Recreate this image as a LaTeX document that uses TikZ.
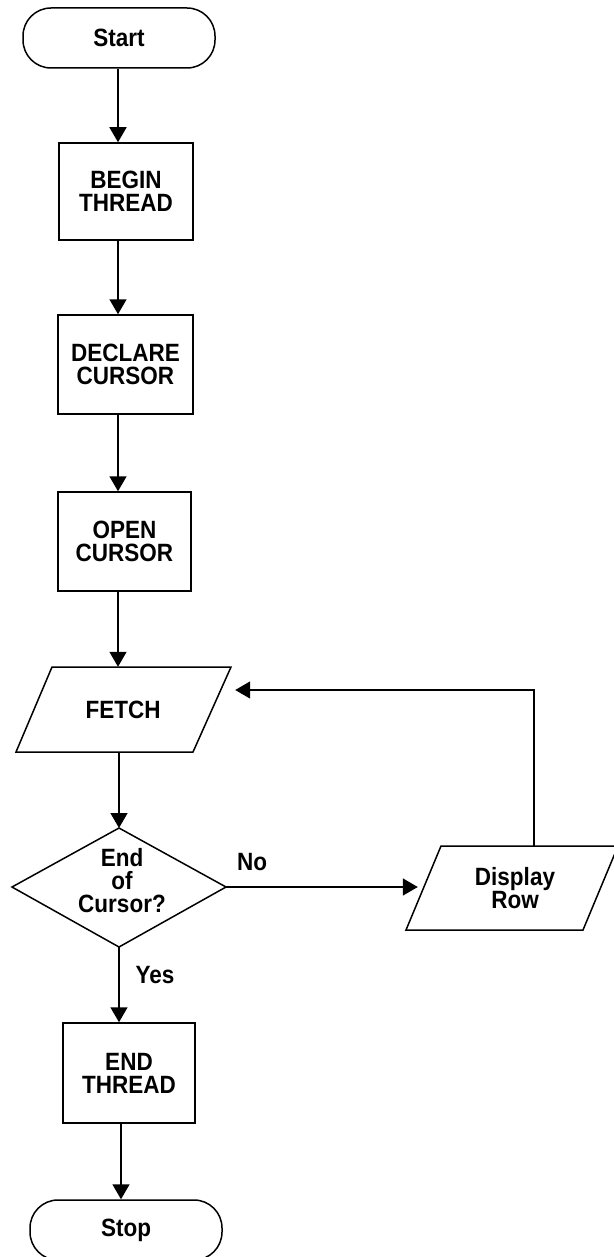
\documentclass[tikz,border=0pt]{standalone}
\usepackage{fontspec}
\setmainfont[FakeStretch=0.9]{Liberation Sans}
\usetikzlibrary{arrows.meta}
\begin{document}
\begin{tikzpicture}[x=1pt,y=-1pt,
  lbl/.style={font=\fontsize{25}{23}\selectfont\bfseries, align=center, inner sep=0pt},
  ln/.style={line width=1.5pt, line join=miter},
  term/.style={lbl, draw, ln, rounded corners=28pt, minimum width=192pt, minimum height=60pt},
  proc/.style={lbl, draw, ln},
  arr/.style={line width=1.5pt, -{Triangle[width=17pt,length=15pt]}}]
\useasboundingbox (0,0) rectangle (613,1257);
\fill[white] (0,0) rectangle (613,1257);

% nodes
\node[term] (start) at (119,38) {Start};
\node[proc, minimum width=134pt, minimum height=97pt] (begin) at (126,191.5) {BEGIN\\THREAD};
\node[proc, minimum width=135pt, minimum height=99pt] (declare) at (125.5,364.5) {DECLARE\\CURSOR};
\node[proc, minimum width=133pt, minimum height=99pt] (open) at (124.5,541.5) {OPEN\\CURSOR};

\node[lbl, minimum width=224pt, minimum height=85pt] (fetch) at (123,709.5) {FETCH};
\draw[ln] ([shift={(-71,-42.5)}]fetch.center) -- ([shift={(108,-42.5)}]fetch.center)
  -- ([shift={(70,42.5)}]fetch.center) -- ([shift={(-107,42.5)}]fetch.center) -- cycle;

\node[lbl] (dec) at (122,881) {End\\of\\Cursor?};
\coordinate (decN) at ([shift={(-3,-53)}]dec.center);
\coordinate (decE) at ([shift={(104,6)}]dec.center);
\coordinate (decS) at ([shift={(-3,66)}]dec.center);
\coordinate (decW) at ([shift={(-110,6)}]dec.center);
\draw[ln] (decN) -- (decE) -- (decS) -- (decW) -- cycle;

\node[lbl, minimum width=194pt, minimum height=84pt] (disp) at (515,888) {Display\\Row};
\draw[ln] ([shift={(-74,-42)}]disp.center) -- ([shift={(103,-42)}]disp.center)
  -- ([shift={(68,42)}]disp.center) -- ([shift={(-109,42)}]disp.center) -- cycle;

\node[proc, minimum width=132pt, minimum height=100pt] (endt) at (129,1073) {END\\THREAD};
\node[term] (stop) at (126,1230) {Stop};

\node[lbl] (no) at (252,862) {No};
\node[lbl] (yes) at (155,975) {Yes};

% connectors
\coordinate (ax) at (118,0);
\coordinate (ax2) at (121,0);
\coordinate (loop) at (534,690);
\draw[arr] (start.south -| ax) -- (begin.north -| ax);
\draw[arr] (begin.south -| ax) -- (declare.north -| ax);
\draw[arr] (declare.south -| ax) -- (open.north -| ax);
\draw[arr] (open.south -| ax) -- (fetch.north -| ax);
\draw[arr] (fetch.south -| decN) -- (decN);
\draw[arr] (decS) -- (endt.north -| decS);
\draw[arr] (endt.south -| ax2) -- (stop.north -| ax2);
\draw[arr] (decE) -- (decE -| disp.west);
\draw[arr] (loop |- disp.north) -- (loop) -- (fetch.east |- loop);
\end{tikzpicture}
\end{document}
